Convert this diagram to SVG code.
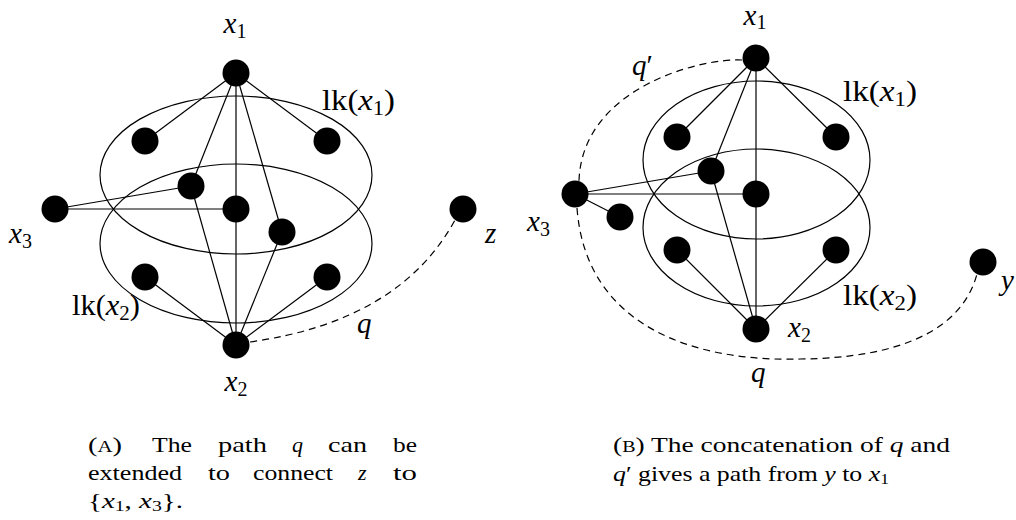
<svg xmlns="http://www.w3.org/2000/svg" width="1016" height="520" viewBox="0 0 1016 520" font-family="Liberation Serif, Noto Serif, DejaVu Serif, serif">
<style>
.n{fill:#000}
.e{stroke:#000;stroke-width:1.2;fill:none}
.d{stroke:#000;stroke-width:1.2;fill:none;stroke-dasharray:7 5}
.ring{fill:none;stroke:#000;stroke-width:1.2}
.lbl{font-size:29px;fill:#000}
.m{font-style:italic}
.sub{font-size:20px;font-style:normal}
.cap{font-size:22px;fill:#000}
.sc{font-size:16px}
</style>
<rect width="1016" height="520" fill="#fff"/>

<!-- Left figure -->
<g id="L-links">
  <g id="L-lk1"><ellipse class="ring" cx="236" cy="175" rx="136" ry="79"/>
    <text class="lbl" x="322" y="110" textLength="73" lengthAdjust="spacingAndGlyphs">lk(<tspan class="m">x</tspan><tspan class="sub" dy="5">1</tspan><tspan dy="-5">)</tspan></text></g>
  <g id="L-lk2"><ellipse class="ring" cx="236" cy="243.5" rx="136" ry="79.5"/>
    <text class="lbl" x="72" y="315" textLength="68" lengthAdjust="spacingAndGlyphs">lk(<tspan class="m">x</tspan><tspan class="sub" dy="5">2</tspan><tspan dy="-5">)</tspan></text></g>
</g>
<g id="L-connectors">
  <line class="e" x1="236" y1="73" x2="145" y2="141"/>
  <line class="e" x1="236" y1="73" x2="327" y2="141"/>
  <line class="e" x1="236" y1="73" x2="191" y2="186"/>
  <line class="e" x1="236" y1="73" x2="236" y2="345"/>
  <line class="e" x1="236" y1="73" x2="282" y2="232"/>
  <line class="e" x1="55" y1="209" x2="191" y2="186"/>
  <line class="e" x1="55" y1="209" x2="236" y2="209"/>
  <line class="e" x1="236" y1="345" x2="145" y2="277"/>
  <line class="e" x1="236" y1="345" x2="327" y2="277"/>
  <line class="e" x1="236" y1="345" x2="191" y2="186"/>
  <line class="e" x1="236" y1="345" x2="282" y2="232"/>
  <path class="d" d="M 250 342 Q 400 321 455 220"/>
  <text class="lbl m" x="357" y="333">q</text>
</g>
<g id="L-x1"><circle class="n" cx="236" cy="73" r="13.5"/>
  <text class="lbl" x="235" y="33" text-anchor="middle"><tspan class="m">x</tspan><tspan class="sub" dy="5">1</tspan></text></g>
<g id="L-a1"><circle class="n" cx="145" cy="141" r="13.5"/></g>
<g id="L-a2"><circle class="n" cx="327" cy="141" r="13.5"/></g>
<g id="L-b"><circle class="n" cx="191" cy="186" r="13.5"/></g>
<g id="L-c"><circle class="n" cx="236" cy="209" r="13.5"/></g>
<g id="L-d"><circle class="n" cx="282" cy="232" r="13.5"/></g>
<g id="L-x3"><circle class="n" cx="55" cy="209" r="13.5"/>
  <text class="lbl" x="9" y="243"><tspan class="m">x</tspan><tspan class="sub" dy="5">3</tspan></text></g>
<g id="L-z"><circle class="n" cx="463" cy="209" r="13.5"/>
  <text class="lbl m" x="485" y="243">z</text></g>
<g id="L-e1"><circle class="n" cx="145" cy="277" r="13.5"/></g>
<g id="L-e2"><circle class="n" cx="327" cy="277" r="13.5"/></g>
<g id="L-x2"><circle class="n" cx="236" cy="345" r="13.5"/>
  <text class="lbl" x="236" y="391" text-anchor="middle"><tspan class="m">x</tspan><tspan class="sub" dy="5">2</tspan></text></g>

<!-- Right figure -->
<g id="R-links">
  <g id="R-lk1"><ellipse class="ring" cx="756.5" cy="160" rx="113.5" ry="79"/>
    <text class="lbl" x="843" y="101" textLength="74" lengthAdjust="spacingAndGlyphs">lk(<tspan class="m">x</tspan><tspan class="sub" dy="5">1</tspan><tspan dy="-5">)</tspan></text></g>
  <g id="R-lk2"><ellipse class="ring" cx="756.5" cy="227.5" rx="113.5" ry="78.5"/>
    <text class="lbl" x="843" y="305" textLength="74" lengthAdjust="spacingAndGlyphs">lk(<tspan class="m">x</tspan><tspan class="sub" dy="5">2</tspan><tspan dy="-5">)</tspan></text></g>
</g>
<g id="R-connectors">
  <line class="e" x1="756" y1="58" x2="677" y2="137"/>
  <line class="e" x1="756" y1="58" x2="836" y2="137"/>
  <line class="e" x1="756" y1="58" x2="711" y2="171"/>
  <line class="e" x1="756" y1="58" x2="756" y2="329"/>
  <line class="e" x1="575" y1="194" x2="711" y2="171"/>
  <line class="e" x1="575" y1="194" x2="756" y2="194"/>
  <line class="e" x1="575" y1="194" x2="620" y2="217"/>
  <line class="e" x1="711" y1="171" x2="756" y2="329"/>
  <line class="e" x1="756" y1="329" x2="677" y2="250"/>
  <line class="e" x1="756" y1="329" x2="836" y2="250"/>
  <path class="d" d="M 742 60 C 700 58, 582 88, 579 181"/>
  <path class="d" d="M 577 208 C 586 330, 700 362, 800 359 C 900 358, 962 330, 977 274"/>
  <text class="lbl m" x="632" y="75">q<tspan font-style="normal">′</tspan></text>
  <text class="lbl m" x="751" y="382">q</text>
</g>
<g id="R-x1"><circle class="n" cx="756" cy="58" r="13.5"/>
  <text class="lbl" x="755" y="25" font-size="27" text-anchor="middle"><tspan class="m">x</tspan><tspan class="sub" dy="4">1</tspan></text></g>
<g id="R-a1"><circle class="n" cx="677" cy="137" r="13.5"/></g>
<g id="R-a2"><circle class="n" cx="836" cy="137" r="13.5"/></g>
<g id="R-b"><circle class="n" cx="711" cy="171" r="13.5"/></g>
<g id="R-c"><circle class="n" cx="756" cy="194" r="13.5"/></g>
<g id="R-x3"><circle class="n" cx="575" cy="194" r="13.5"/>
  <text class="lbl" x="527" y="231"><tspan class="m">x</tspan><tspan class="sub" dy="5">3</tspan></text></g>
<g id="R-s"><circle class="n" cx="620" cy="217" r="13.5"/></g>
<g id="R-e1"><circle class="n" cx="677" cy="250" r="13.5"/></g>
<g id="R-e2"><circle class="n" cx="836" cy="250" r="13.5"/></g>
<g id="R-x2"><circle class="n" cx="756" cy="329" r="13.5"/>
  <text class="lbl" x="788" y="337"><tspan class="m">x</tspan><tspan class="sub" dy="5">2</tspan></text></g>
<g id="R-y"><circle class="n" cx="983" cy="262" r="13.5"/>
  <text class="lbl m" x="1001" y="290">y</text></g>

<!-- Captions -->
<g id="caption-a">
  <text class="cap" x="88" y="452" textLength="34" lengthAdjust="spacingAndGlyphs">(<tspan class="sc">A</tspan>)</text>
  <text class="cap" x="152" y="452" textLength="40" lengthAdjust="spacingAndGlyphs">The</text>
  <text class="cap" x="218" y="452" textLength="49" lengthAdjust="spacingAndGlyphs">path</text>
  <text class="cap m" x="292" y="452">q</text>
  <text class="cap" x="328" y="452" textLength="39" lengthAdjust="spacingAndGlyphs">can</text>
  <text class="cap" x="393" y="452" textLength="24" lengthAdjust="spacingAndGlyphs">be</text>
  <text class="cap" x="88" y="480" textLength="94" lengthAdjust="spacingAndGlyphs">extended</text>
  <text class="cap" x="208" y="480" textLength="22" lengthAdjust="spacingAndGlyphs">to</text>
  <text class="cap" x="253" y="480" textLength="80" lengthAdjust="spacingAndGlyphs">connect</text>
  <text class="cap m" x="358" y="480">z</text>
  <text class="cap" x="393" y="480" textLength="24" lengthAdjust="spacingAndGlyphs">to</text>
  <text class="cap" x="88" y="508" textLength="95" lengthAdjust="spacingAndGlyphs">{<tspan class="m">x</tspan><tspan font-size="15" dy="3">1</tspan><tspan dy="-3">, </tspan><tspan class="m">x</tspan><tspan font-size="15" dy="3">3</tspan><tspan dy="-3">}.</tspan></text>
</g>
<g id="caption-b">
  <text class="cap" x="613" y="452" textLength="337" lengthAdjust="spacingAndGlyphs">(<tspan class="sc">B</tspan>) The concatenation of <tspan class="m">q</tspan> and</text>
  <text class="cap" x="613" y="481" textLength="276" lengthAdjust="spacingAndGlyphs"><tspan class="m">q</tspan>′ gives a path from <tspan class="m">y</tspan> to <tspan class="m">x</tspan><tspan font-size="15" dy="3">1</tspan></text>
</g>
</svg>
